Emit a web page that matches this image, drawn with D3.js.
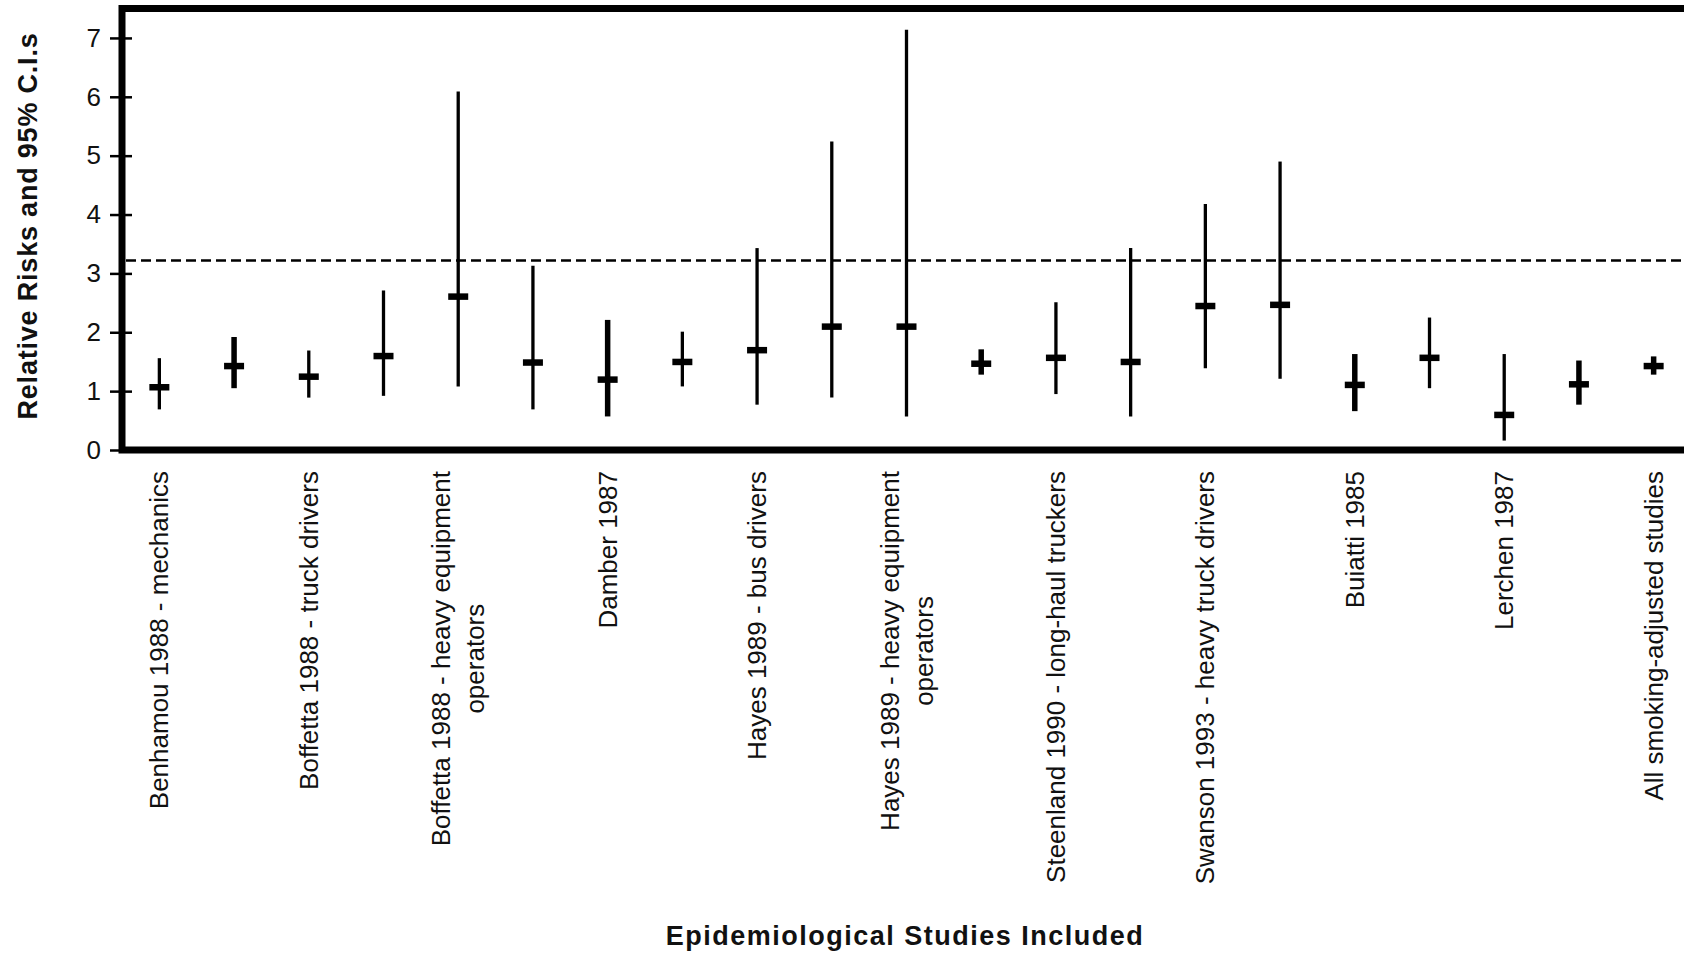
<!DOCTYPE html>
<html>
<head>
<meta charset="utf-8">
<script src="https://cdn.jsdelivr.net/npm/d3@7"></script>
<style>
  body { margin: 0; background: #fff; }
  text { font-family: "Liberation Sans", Arial, sans-serif; fill: #111; }
</style>
</head>
<body>
<div id="chart"></div>
<script>
// one entry per study; Excel only printed every other label
const studyLabels = [
  "Benhamou 1988 - mechanics", "",
  "Boffetta 1988 - truck drivers", "",
  "Boffetta 1988 - heavy equipment\noperators", "",
  "Damber 1987", "",
  "Hayes 1989 - bus drivers", "",
  "Hayes 1989 - heavy equipment\noperators", "",
  "Steenland 1990 - long-haul truckers", "",
  "Swanson 1993 - heavy truck drivers", "",
  "Buiatti 1985", "",
  "Lerchen 1987", "",
  "All smoking-adjusted studies"
];
const relRisk = [1.07, 1.43, 1.25, 1.60, 2.61, 1.49, 1.20, 1.50, 1.70, 2.10, 2.10,
                 1.47, 1.57, 1.50, 2.45, 2.47, 1.11, 1.57, 0.60, 1.12, 1.43];
const ciLow   = [0.69, 1.05, 0.89, 0.92, 1.08, 0.69, 0.57, 1.08, 0.77, 0.89, 0.57,
                 1.28, 0.95, 0.57, 1.39, 1.21, 0.66, 1.05, 0.16, 0.77, 1.28];
const ciHigh  = [1.56, 1.92, 1.69, 2.71, 6.09, 3.13, 2.21, 2.01, 3.43, 5.24, 7.14,
                 1.71, 2.51, 3.43, 4.18, 4.90, 1.63, 2.25, 1.63, 1.52, 1.59];
const yTicks = [0, 1, 2, 3, 4, 5, 6, 7];
const referenceRR = 3.22;

// bars that came out heavier in the original
const heavyBars = [1, 6, 11, 16, 19, 20];

const width = 1684, height = 955;

const svg = d3.select("#chart")
  .append("svg")
  .attr("width", width)
  .attr("height", height);

const x = d3.scalePoint()
  .domain(d3.range(relRisk.length))
  .range([122, 1691])
  .padding(0.5);

const y = d3.scaleLinear()
  .domain([0, 7.5])
  .range([450, 8.5]);

// y axis ticks (cross the frame line)
const yAxis = svg.append("g")
  .attr("transform", "translate(132,0)")
  .call(d3.axisLeft(y).tickValues(yTicks).tickSize(22).tickPadding(9));
yAxis.select(".domain").remove();
yAxis.selectAll(".tick line").attr("stroke", "#000").attr("stroke-width", 2.5);
yAxis.selectAll(".tick text")
  .style("font-size", "26px")
  .attr("fill", "#111")
  .style("font-family", '"Liberation Sans", Arial, sans-serif');

// reference line
svg.append("line")
  .attr("x1", 126).attr("x2", width + 10)
  .attr("y1", y(referenceRR)).attr("y2", y(referenceRR))
  .attr("stroke", "#000")
  .attr("stroke-width", 2.5)
  .attr("stroke-dasharray", "10,5");

// frame (runs off the right edge)
svg.append("path")
  .attr("d", `M${width + 20},${y(7.5)} H122 V${y(0)} H${width + 20}`)
  .attr("fill", "none")
  .attr("stroke", "#000")
  .attr("stroke-width", 7);

// confidence intervals
const studies = relRisk.map((rr, i) => ({ i, rr, lo: ciLow[i], hi: ciHigh[i] }));

svg.selectAll(".ci")
  .data(studies)
  .enter()
  .append("line")
  .attr("class", "ci")
  .attr("x1", d => x(d.i)).attr("x2", d => x(d.i))
  .attr("y1", d => y(d.lo)).attr("y2", d => y(d.hi))
  .attr("stroke", "#000")
  .attr("stroke-width", d => heavyBars.includes(d.i) ? 5.5 : 3.3);

svg.selectAll(".rr")
  .data(studies)
  .enter()
  .append("rect")
  .attr("class", "rr")
  .attr("x", d => x(d.i) - 10)
  .attr("y", d => y(d.rr) - 3)
  .attr("width", 20)
  .attr("height", 6.5)
  .attr("fill", "#000");

// rotated category labels, end aligned just under the frame
const lineGap = 34;
studyLabels.forEach((label, i) => {
  if (!label) return;
  const lines = label.split("\n");
  const g = svg.append("g")
    .attr("transform", `translate(${x(i)},471) rotate(-90)`);
  const texts = lines.map((ln, k) => g.append("text")
    .attr("y", (k - (lines.length - 1) / 2) * lineGap)
    .attr("dy", "0.35em")
    .style("font-size", "26px")
    .text(ln));
  const maxLen = d3.max(texts, t => t.node().getComputedTextLength());
  texts.forEach(t => t.attr("x", -maxLen / 2).attr("text-anchor", "middle"));
});

// axis titles
svg.append("text")
  .attr("transform", "translate(37,226) rotate(-90)")
  .attr("text-anchor", "middle")
  .style("font-size", "27px")
  .style("font-weight", "bold")
  .style("letter-spacing", "0.8px")
  .text("Relative Risks and 95% C.I.s");

svg.append("text")
  .attr("x", 905)
  .attr("y", 945)
  .attr("text-anchor", "middle")
  .style("font-size", "27px")
  .style("font-weight", "bold")
  .style("letter-spacing", "1.5px")
  .text("Epidemiological Studies Included");
</script>
</body>
</html>
